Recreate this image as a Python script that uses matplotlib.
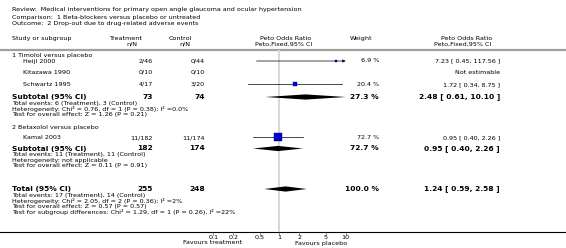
import matplotlib
matplotlib.use('Agg')
import matplotlib.pyplot as plt
import numpy as np

plt.rcParams['font.family'] = ['DejaVu Sans']

# header texts
header = ['Review:  Medical interventions for primary open angle glaucoma and ocular hypertension',
          'Comparison:  1 Beta-blockers versus placebo or untreated',
          'Outcome:  2 Drop-out due to drug-related adverse events']

# studies
groups = ['1 Timolol versus placebo', '2 Betaxolol versus placebo']
studies = ['Heijl 2000', 'Kitazawa 1990', 'Schwartz 1995', 'Kamal 2003']
treat = ['2/46', '0/10', '4/17', '11/182']
ctrl = ['0/44', '0/10', '3/20', '11/174']
est = [7.23, np.nan, 1.72, 0.95]
lo = [0.45, np.nan, 0.34, 0.40]
hi = [117.56, np.nan, 8.75, 2.26]
weight = [6.9, np.nan, 20.4, 72.7]
or_text = ['7.23 [ 0.45, 117.56 ]', 'Not estimable', '1.72 [ 0.34, 8.75 ]', '0.95 [ 0.40, 2.26 ]']

# subtotals and total
sum_labels = ['Subtotal (95% CI)', 'Subtotal (95% CI)', 'Total (95% CI)']
sum_nt = [73, 182, 255]
sum_nc = [74, 174, 248]
sum_est = [2.48, 0.95, 1.24]
sum_lo = [0.61, 0.40, 0.59]
sum_hi = [10.10, 2.26, 2.58]
sum_w = [27.3, 72.7, 100.0]
sum_notes = [
    ['Total events: 6 (Treatment), 3 (Control)',
     'Heterogeneity: Chi² = 0.76, df = 1 (P = 0.38); I² =0.0%',
     'Test for overall effect: Z = 1.26 (P = 0.21)'],
    ['Total events: 11 (Treatment), 11 (Control)',
     'Heterogeneity: not applicable',
     'Test for overall effect: Z = 0.11 (P = 0.91)'],
    ['Total events: 17 (Treatment), 14 (Control)',
     'Heterogeneity: Chi² = 2.05, df = 2 (P = 0.36); I² =2%',
     'Test for overall effect: Z = 0.57 (P = 0.57)',
     'Test for subgroup differences: Chi² = 1.29, df = 1 (P = 0.26), I² =22%'],
]

ticks = [0.1, 0.2, 0.5, 1, 2, 5, 10]
tick_labels = ['0.1', '0.2', '0.5', '1', '2', '5', '10']

# row positions (pixels from top)
group_y = [55, 128]
study_y = [61, 72.5, 84.5, 137.5]
sum_y = [97, 148.5, 189]

W, H = 566, 248
fs, fb = 4.55, 5.4
fig = plt.figure(figsize=(W / 100, H / 100), dpi=100)
ax = fig.add_axes([0, 0, 1, 1])
ax.set_xlim(0, W)
ax.set_ylim(H, 0)
ax.axis('off')

for i, t in enumerate(header):
    ax.text(12, 10 + i * 7, t, fontsize=fs, va='center')

# column headers
ax.text(12, 38.5, 'Study or subgroup', fontsize=fs, va='center')
ax.text(125, 38.5, 'Treatment', fontsize=fs, va='center', ha='center')
ax.text(137, 44.5, 'n/N', fontsize=fs, va='center', ha='right')
ax.text(180, 38.5, 'Control', fontsize=fs, va='center', ha='center')
ax.text(190, 44.5, 'n/N', fontsize=fs, va='center', ha='right')
ax.text(286, 38.5, 'Peto Odds Ratio', fontsize=fs, va='center', ha='center')
ax.text(284, 44.5, 'Peto,Fixed,95% CI', fontsize=fs, va='center', ha='center')
ax.text(361, 38.5, 'Weight', fontsize=fs, va='center', ha='center')
ax.text(467, 38.5, 'Peto Odds Ratio', fontsize=fs, va='center', ha='center')
ax.text(463, 44.5, 'Peto,Fixed,95% CI', fontsize=fs, va='center', ha='center')
ax.plot([0, W], [50, 50], color='#a0a0a0', lw=1.6)

for g, y in zip(groups, group_y):
    ax.text(12, y, g, fontsize=fs, va='center')

for i, s in enumerate(studies):
    y = study_y[i]
    ax.text(23, y, s, fontsize=fs, va='center')
    ax.text(153, y, treat[i], fontsize=fs, va='center', ha='right')
    ax.text(205, y, ctrl[i], fontsize=fs, va='center', ha='right')
    if not np.isnan(weight[i]):
        ax.text(379, y, '%.1f %%' % weight[i], fontsize=fs, va='center', ha='right')
    ax.text(500, y, or_text[i], fontsize=fs, va='center', ha='right')

for i, lab in enumerate(sum_labels):
    y = sum_y[i]
    ax.text(12, y, lab, fontsize=fb, va='center', fontweight='bold')
    ax.text(153, y, str(sum_nt[i]), fontsize=fb, va='center', ha='right', fontweight='bold')
    ax.text(205, y, str(sum_nc[i]), fontsize=fb, va='center', ha='right', fontweight='bold')
    ax.text(379, y, '%.1f %%' % sum_w[i], fontsize=fb, va='center', ha='right', fontweight='bold')
    ax.text(500, y, '%.2f [ %.2f, %.2f ]' % (sum_est[i], sum_lo[i], sum_hi[i]),
            fontsize=fb, va='center', ha='right', fontweight='bold')
    for j, note in enumerate(sum_notes[i]):
        ax.text(12, y + 6 + j * 5.6, note, fontsize=fs, va='center')

# bottom axis line
ax.plot([0, W], [232, 232], color='black', lw=0.8)
ax.text(242, 243, 'Favours treatment', fontsize=fs, va='center', ha='right')
ax.text(295, 243, 'Favours placebo', fontsize=fs, va='center', ha='left')

# forest plot axes
x0, x1, ytop, ybot = 213.3, 345.6, 50, 232
fx = fig.add_axes([x0 / W, (H - ybot) / H, (x1 - x0) / W, (ybot - ytop) / H])
fx.patch.set_alpha(0)
fx.set_xscale('log')
fx.set_xlim(0.1, 10)
fx.set_ylim(ybot, ytop)
for sp in fx.spines.values():
    sp.set_visible(False)
fx.set_yticks([])
fx.set_xticks(ticks)
fx.set_xticklabels(tick_labels, fontsize=fs)
fx.minorticks_off()
fx.tick_params(axis='x', length=2, width=0.5, pad=0.5, color='#606060')
fx.axvline(1, color='#d8d8d8', lw=1.5, zorder=0)

for i in range(len(studies)):
    if np.isnan(est[i]):
        continue
    y = study_y[i]
    if hi[i] > 10:
        fx.annotate('', xy=(10, y), xytext=(lo[i], y),
                    arrowprops=dict(arrowstyle='-|>', lw=0.5, color='black',
                                    mutation_scale=4, shrinkA=0, shrinkB=0))
    else:
        fx.plot([lo[i], hi[i]], [y, y], color='black', lw=0.5)
    fx.plot(est[i], y, marker='s', ms=0.75 * np.sqrt(weight[i]), color='#0000cc',
            mec='#000080', mew=0.3, clip_on=False, zorder=3)

for i in range(len(sum_est)):
    y = sum_y[i]
    h = 2.6
    fx.fill([sum_lo[i], sum_est[i], sum_hi[i], sum_est[i]], [y, y - h, y, y + h],
            color='black', lw=0, clip_on=False)

fig.savefig('out.png', dpi=100)
